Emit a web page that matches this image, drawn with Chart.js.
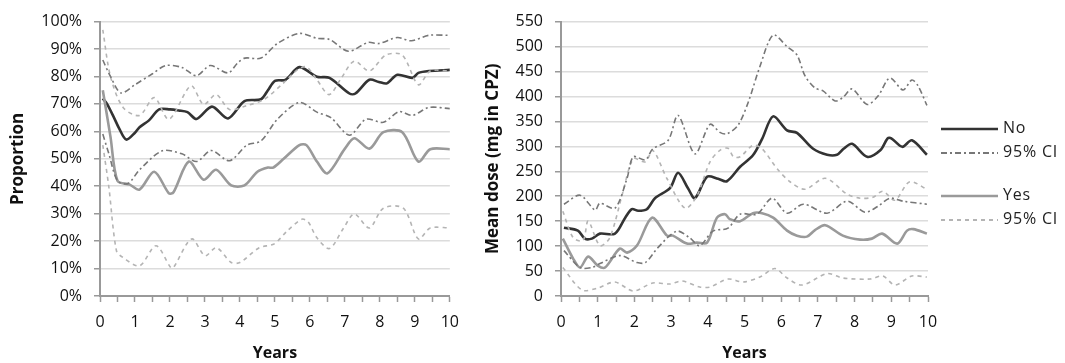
<!DOCTYPE html>
<html><head><meta charset="utf-8">
<script src="https://cdn.jsdelivr.net/npm/chart.js@4.4.1/dist/chart.umd.min.js"></script>
<style>
html,body{margin:0;padding:0;background:#fff;width:1065px;height:363px;overflow:hidden;font-family:"Open Sans",sans-serif;}
#c1{position:absolute;left:0;top:0;}
#c2{position:absolute;left:470px;top:0;}
.lg{position:absolute;left:941px;font-size:16px;letter-spacing:0.8px;color:#222;line-height:18px;white-space:nowrap;}
.lg svg{vertical-align:middle;margin-right:5px;}
</style></head><body>
<canvas id="c1" width="470" height="363"></canvas>
<canvas id="c2" width="595" height="363"></canvas>
<div class="lg" style="top:118px"><svg width="57" height="6"><line x1="0" y1="3" x2="57" y2="3" stroke="#333" stroke-width="2.6"/></svg>No</div>
<div class="lg" style="top:142px"><svg width="57" height="6"><line x1="0" y1="3" x2="57" y2="3" stroke="#777" stroke-width="1.8" stroke-dasharray="6,3,2,3"/></svg>95% CI</div>
<div class="lg" style="top:185px"><svg width="57" height="6"><line x1="0" y1="3" x2="57" y2="3" stroke="#9a9a9a" stroke-width="2.6"/></svg>Yes</div>
<div class="lg" style="top:209px"><svg width="57" height="6"><line x1="0" y1="3" x2="57" y2="3" stroke="#b4b4b4" stroke-width="1.8" stroke-dasharray="4,4"/></svg>95% CI</div>
<script>
// Proportion chart (year, %)
const propNo = [[0.08,72],[0.2,70],[0.4,65],[0.55,61],[0.75,57],[1.0,59.5],[1.13,61.5],[1.4,64],[1.69,68],[2.0,68],[2.25,67.6],[2.5,67],[2.76,64.5],[3.2,69],[3.66,64.7],[4.13,71],[4.6,71.7],[4.8,75],[5.0,78.4],[5.3,78.8],[5.7,83.4],[6.2,79.9],[6.56,79.5],[7.13,73.8],[7.3,73.8],[7.7,78.8],[7.97,78],[8.2,77.5],[8.5,80.6],[8.93,79.5],[9.1,81.3],[9.4,82],[10,82.4]];
const propNoHi = [[0.08,86],[0.3,80],[0.6,74],[1.0,77],[1.5,81],[1.88,84],[2.34,83.3],[2.76,80.3],[3.15,84],[3.66,81.3],[3.94,85],[4.14,86.7],[4.6,86.7],[5.07,92],[5.7,95.7],[6.2,93.9],[6.56,93.5],[7.1,89.2],[7.66,92.4],[7.97,92],[8.5,94.2],[8.9,93],[9.4,95],[10,95]];
const propNoLo = [[0.08,59],[0.25,52],[0.5,42],[0.8,41],[1.13,46],[1.78,52.9],[2.34,51.8],[2.76,49],[3.18,53],[3.7,49.3],[4.2,55],[4.6,56.5],[5.07,64.4],[5.7,70.5],[6.2,67],[6.6,65],[7.13,58.6],[7.6,64.4],[8.1,63.3],[8.55,67.2],[8.93,65.8],[9.4,68.7],[10,68.3]];
const propYes = [[0.08,75],[0.3,58],[0.5,42],[0.85,40.6],[1.13,38.8],[1.55,45.3],[1.97,37.4],[2.1,37.8],[2.54,49],[2.96,42.4],[3.32,46],[3.75,40.3],[4.13,40.3],[4.5,45.3],[4.8,46.8],[4.95,46.8],[5.25,50],[5.7,55],[5.9,55],[6.2,49],[6.5,44.7],[7.0,53.7],[7.27,57.5],[7.7,53.7],[8.1,59.7],[8.64,59.7],[9.1,49],[9.44,53.5],[10,53.5]];
const propYesHi = [[0.08,97],[0.3,80],[0.66,68.7],[1.13,65.8],[1.55,72.3],[1.97,64.4],[2.6,76.6],[2.96,69.8],[3.32,73.4],[3.7,68],[4.2,69.4],[4.7,71.7],[5.25,77.7],[5.64,82.4],[5.9,83.5],[6.2,78.8],[6.55,73.4],[6.9,79.5],[7.27,85.6],[7.7,82],[8.17,87.8],[8.64,87.8],[9.1,77],[9.44,82],[10,82]];
const propYesLo = [[0.08,55],[0.25,40],[0.47,16.5],[0.66,14],[1.13,11],[1.6,18.3],[2.02,10.4],[2.1,10.4],[2.62,20.8],[3.0,14.7],[3.33,17.6],[3.75,12.2],[4.0,12.2],[4.55,17.6],[4.98,19],[5.35,23.7],[5.77,28],[5.95,27],[6.2,21.2],[6.56,17.3],[6.95,24.5],[7.27,29.9],[7.7,24.8],[8.1,32],[8.67,32],[9.1,20.8],[9.44,24.8],[10,24.8]];

// Mean dose chart (year, mg in CPZ)
const doseNo = [[0.08,137],[0.46,131],[0.65,115],[0.84,115],[1.06,125],[1.47,125],[1.75,157],[1.93,174],[2.1,171],[2.34,174],[2.56,196],[2.97,216],[3.19,247],[3.46,216],[3.65,196],[3.98,239],[4.28,235],[4.52,230],[4.88,259],[5.23,282],[5.48,315],[5.78,360],[6.16,332],[6.43,327],[6.87,295],[7.25,283],[7.52,283],[7.7,295],[7.93,305],[8.34,279],[8.7,292],[8.9,316],[9.0,316],[9.3,299],[9.56,312],[9.97,283]];
const doseNoHi = [[0.08,184],[0.52,202],[0.93,172],[1.06,186],[1.47,176],[1.8,236],[1.97,279],[2.3,273],[2.5,295],[2.92,312],[3.19,362],[3.65,285],[4.06,344],[4.33,328],[4.52,325],[4.82,342],[5.1,388],[5.42,460],[5.78,523],[6.16,500],[6.43,483],[6.65,441],[6.92,417],[7.14,411],[7.47,391],[7.68,398],[7.93,415],[8.34,384],[8.64,401],[8.96,437],[9.32,413],[9.56,433],[9.73,421],[9.97,382]];
const doseNoLo = [[0.08,91],[0.52,57],[0.84,57],[1.06,65],[1.6,81],[2.07,67],[2.3,67],[2.64,97],[3.15,130],[3.5,117],[3.78,101],[4.14,130],[4.55,136],[4.88,164],[5.34,164],[5.75,196],[6.16,166],[6.6,184],[7.25,166],[7.8,190],[8.28,168],[8.64,180],[8.96,196],[9.32,190],[9.97,184]];
const doseYes = [[0.05,115],[0.33,75],[0.52,57],[0.74,79],[1.0,61],[1.2,57],[1.6,95],[1.8,87],[2.07,101],[2.48,157],[2.89,121],[3.05,121],[3.43,105],[3.7,107],[3.98,107],[4.25,157],[4.47,164],[4.6,154],[4.88,150],[5.23,166],[5.48,166],[5.78,157],[6.16,131],[6.43,121],[6.7,119],[6.92,132],[7.2,142],[7.68,121],[8.15,113],[8.47,115],[8.75,125],[9.16,105],[9.43,131],[9.6,134],[9.97,125]];
const doseYesHi = [[0.05,170],[0.33,117],[0.6,111],[0.74,150],[1.06,101],[1.33,117],[1.69,209],[1.97,275],[2.3,269],[2.5,292],[2.89,235],[3.38,176],[3.7,200],[4.06,269],[4.33,292],[4.55,296],[4.7,279],[4.88,279],[5.23,302],[5.48,295],[5.89,255],[6.24,229],[6.65,214],[7.2,236],[7.8,204],[8.15,196],[8.5,198],[8.77,210],[9.1,192],[9.5,229],[9.97,214]];
const doseYesLo = [[0.05,57],[0.57,12],[1.0,16],[1.47,28],[1.97,10],[2.5,26],[2.97,24],[3.3,30],[3.78,18],[4.06,18],[4.55,34],[4.96,28],[5.42,38],[5.83,55],[6.16,36],[6.57,22],[7.25,45],[7.68,36],[8.42,34],[8.77,40],[9.1,22],[9.56,40],[9.97,38]];

const xTickLabels = ['0','1','2','3','4','5','6','7','8','9','10'];

const FONT = '"Open Sans", sans-serif';
const pts = a => a.map(p => ({x: p[0], y: p[1]}));
function ds(data, color, width, dash){
  return {data: pts(data), borderColor: color, borderWidth: width, borderDash: dash || [], pointRadius: 0, tension: 0.3, fill: false};
}
function makeChart(id, sets, yMax, yStep, yFmt, yTitle, yWidth, padRight, yTitlePad){
  return new Chart(document.getElementById(id), {
    type: 'line',
    data: {datasets: sets},
    options: {
      responsive: false, animation: false,
      layout: {padding: {top: 18, right: padRight, left: 0, bottom: 0}},
      plugins: {legend: {display: false}, tooltip: {enabled: false}},
      scales: {
        x: {
          type: 'linear', min: 0, max: 10,
          afterFit: s => { s.height = 67; },
          afterBuildTicks: s => { const t = []; for (let i = 0; i <= 20; i++) t.push({value: i / 2}); s.ticks = t; },
          ticks: {autoSkip: false, maxRotation: 0, padding: 11, color: '#111', font: {family: FONT, size: 16},
            callback: v => Number.isInteger(v) ? xTickLabels[v] : ''},
          grid: {drawOnChartArea: false, tickLength: 6, tickColor: '#999', tickWidth: 1.5},
          border: {color: '#999', width: 2},
          title: {display: true, text: 'Years', color: '#111', font: {family: FONT, size: 16, weight: 'bold'}, padding: {top: 0, bottom: 0}}
        },
        y: {
          min: 0, max: yMax,
          afterFit: s => { s.width = yWidth; },
          ticks: {stepSize: yStep, padding: 12, color: '#111', font: {family: FONT, size: 16}, callback: yFmt},
          grid: {color: '#dcdcdc', lineWidth: 1.5, tickLength: 6, tickColor: '#999'},
          border: {color: '#999', width: 2},
          title: {display: true, text: yTitle, color: '#111', font: {family: FONT, size: 17, weight: 'bold'}, padding: {top: yTitlePad, bottom: 0}}
        }
      }
    }
  });
}
const cNo = '#333', cNoCI = '#777', cYes = '#9a9a9a', cYesCI = '#b4b4b4';
const dashDot = [6,3,2,3], dashed = [4,4];
makeChart('c1', [
  ds(propNoHi, cNoCI, 1.6, dashDot), ds(propNoLo, cNoCI, 1.6, dashDot),
  ds(propYesHi, cYesCI, 1.6, dashed), ds(propYesLo, cYesCI, 1.6, dashed),
  ds(propYes, cYes, 2.6), ds(propNo, cNo, 2.6)
], 100, 10, v => v + '%', 'Proportion', 100, 15, 8);
makeChart('c2', [
  ds(doseNoHi, cNoCI, 1.6, dashDot), ds(doseNoLo, cNoCI, 1.6, dashDot),
  ds(doseYesHi, cYesCI, 1.6, dashed), ds(doseYesLo, cYesCI, 1.6, dashed),
  ds(doseYes, cYes, 2.6), ds(doseNo, cNo, 2.6)
], 550, 50, v => String(v), 'Mean dose (mg in CPZ)', 91, 137, 13);
</script>
</body></html>
